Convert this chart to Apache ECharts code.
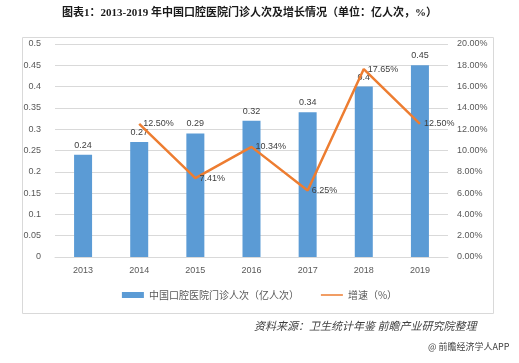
<!DOCTYPE html>
<html><head><meta charset="utf-8">
<script src="https://cdn.jsdelivr.net/npm/echarts@6/dist/echarts.min.js"></script>
<style>html,body{margin:0;padding:0;background:#fff}#c{width:519px;height:363px}</style>
</head><body><div id="c"></div>
<script>
var categories = ['2013','2014','2015','2016','2017','2018','2019'];
var visits = [0.24,0.27,0.29,0.32,0.34,0.4,0.45];
var growth = [null,12.50,7.41,10.34,6.25,17.65,12.50];
var leftTicks = {min:0,max:0.5,interval:0.05};
var rightTicks = {min:0,max:20,interval:2};

var chart = echarts.init(document.getElementById('c'));
var labelFont = "'Liberation Sans','Noto Sans CJK SC',sans-serif";
chart.setOption({
  animation:false,
  textStyle:{fontFamily:labelFont},
  grid:{left:55,right:71,top:44,bottom:106},
  graphic:[
    {type:'rect',shape:{x:22.5,y:37.5,width:471,height:276},style:{fill:'none',stroke:'#d9d9d9',lineWidth:1},silent:true},
    {type:'text',left:62,top:8,style:{text:'图表1：2013-2019 年中国口腔医院门诊人次及增长情况（单位：亿人次，%）',fontSize:11,fontWeight:'bold',fill:'#1a1a1a',fontFamily:"'Liberation Serif','Noto Sans CJK SC',serif"}},
    {type:'text',left:254,top:320,style:{text:'资料来源：卫生统计年鉴 前瞻产业研究院整理',fontSize:11,fontStyle:'italic',fill:'#404040',fontFamily:"'Noto Sans CJK SC',sans-serif"}},
    {type:'text',left:428,top:342,style:{text:'@ 前瞻经济学人APP',fontSize:9,fill:'#404040',fontFamily:"'Noto Sans CJK SC',sans-serif"}}
  ],
  legend:{
    top:285,left:'center',itemGap:22,itemWidth:22,itemHeight:6,
    textStyle:{fontSize:10,color:'#595959',fontFamily:"'Noto Sans CJK SC',sans-serif"},
    data:[{name:'中国口腔医院门诊人次（亿人次）',icon:'rect'},{name:'增速（%）',icon:'path://M0,2.5 L22,2.5 L22,4 L0,4 Z'}]
  },
  xAxis:{type:'category',data:categories,
    axisLine:{lineStyle:{color:'#d9d9d9'}},axisTick:{show:false},
    axisLabel:{color:'#595959',fontSize:9,margin:9}},
  yAxis:[
    {type:'value',min:leftTicks.min,max:leftTicks.max,interval:leftTicks.interval,
      axisLine:{show:false},axisTick:{show:false},
      splitLine:{lineStyle:{color:'#d9d9d9'}},
      axisLabel:{color:'#595959',fontSize:9,margin:14}},
    {type:'value',min:rightTicks.min,max:rightTicks.max,interval:rightTicks.interval,
      axisLine:{show:false},axisTick:{show:false},splitLine:{show:false},
      axisLabel:{color:'#595959',fontSize:9,margin:9,formatter:function(v){return v.toFixed(2)+'%';}}}
  ],
  series:[
    {name:'中国口腔医院门诊人次（亿人次）',type:'bar',data:visits,barWidth:18,
      itemStyle:{color:'#5b9bd5'},
      label:{show:true,position:'top',color:'#404040',fontSize:9,distance:5}},
    {name:'增速（%）',type:'line',yAxisIndex:1,data:growth,symbol:'circle',symbolSize:0.1,showSymbol:true,
      lineStyle:{color:'#ed7d31',width:2.5},itemStyle:{color:'#ed7d31'},
      label:{show:true,position:'right',color:'#404040',fontSize:9,distance:4,
        formatter:function(p){return p.value.toFixed(2)+'%';}}}
  ]
});
</script></body></html>
